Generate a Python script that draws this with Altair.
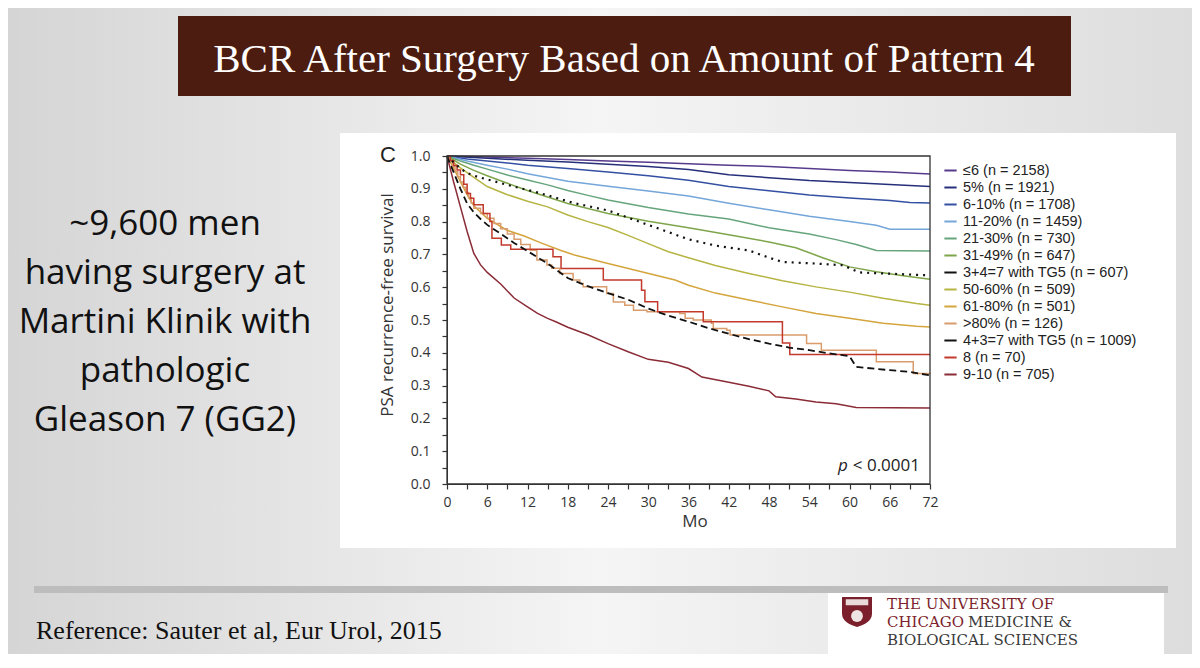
import altair as alt
import pandas as pd

# ---------------- data ----------------
LABELS = [
    "≤6 (n = 2158)", "5% (n = 1921)", "6-10% (n = 1708)", "11-20% (n = 1459)",
    "21-30% (n = 730)", "31-49% (n = 647)", "3+4=7 with TG5 (n = 607)",
    "50-60% (n = 509)", "61-80% (n = 501)", ">80% (n = 126)",
    "4+3=7 with TG5 (n = 1009)", "8 (n = 70)", "9-10 (n = 705)",
]
COLORS = [
    "#563b8c", "#26307a", "#3450a2", "#74a6da", "#66a57c", "#7ea54a", "#111111",
    "#b6b443", "#d4a53c", "#d99c6c", "#111111", "#c3392c", "#8a2b36",
]
STYLES = ["smooth", "smooth", "smooth", "smooth", "smooth", "smooth", "dotted",
          "smooth", "smooth", "step", "dashed", "step", "smooth"]

m_le6 = [0, 6, 12, 18, 24, 30, 36, 42, 48, 54, 60, 66, 72]
s_le6 = [1.0, 0.997, 0.993, 0.989, 0.985, 0.981, 0.976, 0.972, 0.968, 0.962, 0.956, 0.951, 0.945]

m_5 = [0, 6, 12, 18, 24, 30, 36, 42, 48, 54, 60, 66, 72]
s_5 = [1.0, 0.993, 0.987, 0.982, 0.975, 0.968, 0.959, 0.943, 0.934, 0.925, 0.919, 0.913, 0.907]

m_6_10 = [0, 3, 6, 9, 12, 18, 24, 30, 36, 42, 48, 54, 60, 66, 69, 72]
s_6_10 = [1.0, 0.991, 0.985, 0.979, 0.972, 0.962, 0.951, 0.940, 0.926, 0.907, 0.894, 0.881, 0.872, 0.864, 0.858, 0.857]

m_11_20 = [0, 3, 6, 9, 12, 18, 24, 30, 36, 42, 48, 54, 60, 64, 66, 72]
s_11_20 = [1.0, 0.985, 0.972, 0.960, 0.946, 0.923, 0.908, 0.893, 0.878, 0.856, 0.836, 0.816, 0.800, 0.789, 0.777, 0.777]

m_21_30 = [0, 2, 4, 6, 9, 12, 15, 18, 21, 24, 30, 36, 42, 48, 54, 58, 61, 64, 72]
s_21_30 = [1.0, 0.985, 0.972, 0.960, 0.942, 0.927, 0.912, 0.895, 0.880, 0.866, 0.843, 0.823, 0.808, 0.781, 0.762, 0.745, 0.730, 0.712, 0.710]

m_31_49 = [0, 2, 4, 6, 9, 12, 15, 18, 21, 24, 30, 36, 42, 48, 52, 56, 60, 64, 68, 72]
s_31_49 = [1.0, 0.975, 0.956, 0.940, 0.917, 0.895, 0.875, 0.855, 0.840, 0.825, 0.801, 0.781, 0.760, 0.738, 0.720, 0.690, 0.662, 0.647, 0.635, 0.624]

m_34tg5 = [0, 1, 2, 3, 4.5, 9, 14, 19, 24, 27, 30, 33, 36, 40, 45, 48, 50, 55, 59, 61.5, 72]
s_34tg5 = [1.0, 0.980, 0.962, 0.948, 0.937, 0.912, 0.886, 0.856, 0.834, 0.812, 0.790, 0.768, 0.746, 0.727, 0.712, 0.690, 0.677, 0.672, 0.667, 0.645, 0.636]

m_50_60 = [0, 1, 2, 4, 6, 9, 12, 15, 18, 21, 24, 27, 30, 33, 36, 40, 45, 50, 55, 60, 65, 70, 72]
s_50_60 = [1.0, 0.980, 0.964, 0.935, 0.907, 0.882, 0.862, 0.845, 0.820, 0.800, 0.782, 0.758, 0.733, 0.708, 0.690, 0.666, 0.642, 0.620, 0.601, 0.585, 0.566, 0.550, 0.545]

m_61_80 = [0, 1, 2, 3, 4, 6, 9, 11.5, 14, 17, 19, 24, 29, 34, 36, 40, 45, 50, 55, 60, 65, 70, 72]
s_61_80 = [1.0, 0.962, 0.922, 0.882, 0.848, 0.810, 0.773, 0.756, 0.735, 0.712, 0.698, 0.672, 0.647, 0.622, 0.606, 0.582, 0.561, 0.540, 0.520, 0.505, 0.490, 0.481, 0.479]

m_gt80 = [0, 0.4, 0.8, 1.2, 1.6, 2.0, 2.4, 2.8, 3.2, 3.6, 4.0, 5, 6, 7, 8, 9, 10, 11, 12.4, 13.4,
          14.9, 15.6, 16.8, 18.8, 19.8, 20.3, 23.8, 24.8, 26.5, 27.8, 29.8, 34.7, 35.5, 36.7,
          39.4, 39.7, 41.7, 42.2, 53.6, 55.8, 64.0, 69.5, 72]
s_gt80 = [1.0, 0.984, 0.968, 0.952, 0.937, 0.921, 0.905, 0.889, 0.873, 0.857, 0.841, 0.825, 0.810,
          0.794, 0.778, 0.762, 0.746, 0.730, 0.713, 0.683, 0.668, 0.658, 0.642, 0.622, 0.611,
          0.601, 0.581, 0.555, 0.545, 0.530, 0.525, 0.520, 0.505, 0.500, 0.490, 0.474, 0.469,
          0.454, 0.428, 0.408, 0.373, 0.337, 0.335]

m_43tg5 = [0, 1, 2, 3, 4, 5, 6, 8, 10, 12, 15, 18, 21, 24, 27, 30, 33, 36, 39, 42, 45, 48, 51,
           54, 58, 60, 61, 66, 69, 72]
s_43tg5 = [1.0, 0.950, 0.900, 0.855, 0.828, 0.808, 0.790, 0.763, 0.735, 0.710, 0.672, 0.628,
           0.603, 0.582, 0.562, 0.535, 0.513, 0.495, 0.475, 0.458, 0.442, 0.428, 0.416, 0.408,
           0.395, 0.390, 0.357, 0.347, 0.342, 0.331]

m_8 = [0, 0.5, 1, 1.5, 2, 2.5, 3, 3.5, 4, 5.4, 6.4, 6.7, 8.1, 9.5, 15.8, 17.0, 23.3, 29.0, 29.5,
       31.4, 38.2, 50.0, 51.1, 72]
s_8 = [1.0, 0.986, 0.971, 0.957, 0.943, 0.914, 0.886, 0.871, 0.851, 0.825, 0.800, 0.749, 0.729,
       0.716, 0.693, 0.657, 0.622, 0.591, 0.556, 0.525, 0.495, 0.430, 0.395, 0.395]

m_9_10 = [0, 0.5, 1, 2, 3, 4, 5, 6, 8, 10, 12, 13.5, 15, 16.3, 18, 21, 24, 27, 30, 33, 36, 38,
          42, 45, 48, 49, 52, 55, 58, 61, 72]
s_9_10 = [1.0, 0.960, 0.920, 0.845, 0.770, 0.703, 0.668, 0.645, 0.610, 0.567, 0.540, 0.520,
          0.505, 0.494, 0.478, 0.455, 0.428, 0.403, 0.380, 0.371, 0.352, 0.326, 0.310, 0.298,
          0.284, 0.266, 0.259, 0.250, 0.245, 0.233, 0.232]

SERIES = [
    (m_le6, s_le6), (m_5, s_5), (m_6_10, s_6_10), (m_11_20, s_11_20), (m_21_30, s_21_30),
    (m_31_49, s_31_49), (m_34tg5, s_34tg5), (m_50_60, s_50_60), (m_61_80, s_61_80),
    (m_gt80, s_gt80), (m_43tg5, s_43tg5), (m_8, s_8), (m_9_10, s_9_10),
]

X_TICKS = list(range(0, 73, 3))
Y_TICKS = [round(i * 0.05, 2) for i in range(21)]

TITLE = "BCR After Surgery Based on Amount of Pattern 4"
LEFT_TEXT = ["~9,600 men", "having surgery at", "Martini Klinik with", "pathologic", "Gleason 7 (GG2)"]
REFERENCE = "Reference: Sauter et al, Eur Urol, 2015"

rows = []
for lab, st, (ms, ss) in zip(LABELS, STYLES, SERIES):
    for m, s in zip(ms, ss):
        rows.append({"label": lab, "style": st, "month": m, "surv": s})
df = pd.DataFrame(rows)

# ---------------- layout ----------------
W, H = 483, 328
PAD = {"left": 439, "top": 148, "right": 262, "bottom": 170}
one = pd.DataFrame({"k": [0]})


def rect(x, x2, y, y2, **kw):
    return alt.Chart(one).mark_rect(**kw).encode(
        x=alt.value(x), x2=alt.value(x2), y=alt.value(y), y2=alt.value(y2))


def label(txt, x, y, **kw):
    return alt.Chart(one).mark_text(text=txt, **kw).encode(x=alt.value(x), y=alt.value(y))


bg_grad = alt.LinearGradient(
    gradient="linear", x1=0, x2=1, y1=0, y2=0,
    stops=[alt.GradientStop(color="#d5d5d5", offset=0),
           alt.GradientStop(color="#f5f5f5", offset=0.5),
           alt.GradientStop(color="#dddddd", offset=1)])

background = rect(-PAD["left"], W + PAD["right"], -PAD["top"], H + PAD["bottom"], fill=bg_grad)
panel = rect(-107, 729, -23, 392, color="#ffffff")
title_box = rect(-269, 624, -140, -60, color="#4b1c0f")
title_txt = label(TITLE, 177, -84, font="Liberation Serif", fontSize=41, color="#ffffff",
                  align="center", baseline="alphabetic")
left_txt = label(LEFT_TEXT, -282, 79, font="Open Sans", fontSize=35, color="#111111",
                 align="center", baseline="alphabetic", lineHeight=49)
band = rect(-413, 721, 430, 437, color="#bdbdbd")
ref_txt = label(REFERENCE, -411, 483, font="Liberation Serif", fontSize=26, color="#111111",
                align="left", baseline="alphabetic")
logo_box = rect(381, 717, 437, 498, color="#ffffff")
shield = alt.Chart(one).mark_point(
    shape="M-1,-1 L1,-1 L1,0.1 C1,0.6 0.5,0.85 0,1 C-0.5,0.85 -1,0.6 -1,0.1 Z",
    size=900, filled=True, color="#7a1f2b", opacity=1, strokeWidth=0,
).encode(x=alt.value(410), y=alt.value(456))
shield_band = alt.Chart(one).mark_point(
    shape="M-0.75,-0.85 L0.75,-0.85 L0.75,-0.45 L-0.75,-0.45 Z",
    size=900, filled=True, color="#e9d9d9", opacity=1, strokeWidth=0,
).encode(x=alt.value(410), y=alt.value(456))
shield_bird = alt.Chart(one).mark_point(
    shape="circle", size=140, filled=True, color="#efe4e4", opacity=1, strokeWidth=0,
).encode(x=alt.value(410), y=alt.value(460))
MAROON, GRAY = "#7d1f2d", "#3a3a3a"
lf = dict(font="DejaVu Serif", fontSize=15, align="left", baseline="alphabetic")
logo1 = label("THE UNIVERSITY OF", 440, 453, color=MAROON, **lf)
logo2a = label("CHICAGO", 440, 471, color=MAROON, **lf)
logo2b = label("MEDICINE &", 521, 471, color=GRAY, **lf)
logo3 = label("BIOLOGICAL SCIENCES", 440, 489, color=GRAY, **lf)

# ---------------- KM chart ----------------
x_axis = alt.Axis(values=X_TICKS, labelExpr="datum.value % 6 == 0 ? datum.label : ''",
                  tickSize=5, tickWidth=1.2, labelPadding=6, labelFont="Open Sans",
                  labelFontSize=14, labelColor="#333333", domainColor="#333333",
                  tickColor="#333333", title=None, grid=False, zindex=1, labelFlush=False,
                  labelOverlap=False)
y_axis = alt.Axis(values=Y_TICKS,
                  labelExpr="round(datum.value * 20) % 2 == 0 ? format(datum.value, '.1f') : ''",
                  tickSize=5, tickWidth=1.2, labelPadding=12, labelFont="Open Sans",
                  labelFontSize=14, labelColor="#333333", domainColor="#333333",
                  tickColor="#333333", title=None, grid=False, zindex=1, labelOverlap=False)
legend = alt.Legend(title=None, orient="none", legendX=496, legendY=7, symbolType="stroke",
                    symbolSize=150, symbolStrokeWidth=2, labelFont="Liberation Sans",
                    labelFontSize=14.5, labelColor="#222222", rowPadding=2.0, labelOffset=5,
                    padding=0, zindex=1, labelLimit=0)

base = alt.Chart(df).encode(
    x=alt.X("month:Q", scale=alt.Scale(domain=[0, 72], nice=False, zero=False), axis=x_axis),
    y=alt.Y("surv:Q", scale=alt.Scale(domain=[0, 1], nice=False), axis=y_axis),
    color=alt.Color("label:N", scale=alt.Scale(domain=LABELS, range=COLORS), legend=legend,
                    sort=LABELS),
)
smooth = base.transform_filter(alt.datum.style == "smooth").mark_line(strokeWidth=1.5)
step = base.transform_filter(alt.datum.style == "step").mark_line(strokeWidth=1.5,
                                                                  interpolate="step-after")
dotted = base.transform_filter(alt.datum.style == "dotted").mark_line(
    strokeWidth=2.2, strokeDash=[2, 5])
dashed = base.transform_filter(alt.datum.style == "dashed").mark_line(
    strokeWidth=1.8, strokeDash=[7, 4])

frame = rect(0, W, 0, H, fillOpacity=0, stroke="#333333", strokeWidth=1.3)
c_txt = label("C", -59, -1, font="Liberation Sans", fontSize=22, color="#222222",
              align="center", baseline="middle")
y_title = label("PSA recurrence-free survival", -59, 149, font="Open Sans", fontSize=17,
                color="#333333", align="center", baseline="middle", angle=270)
x_title = label("Mo", 248, 366, font="Open Sans", fontSize=17, color="#333333",
                align="center", baseline="middle")
p_txt = label("p", 391, 315, font="Open Sans", fontSize=17, fontStyle="italic",
              color="#222222", align="left", baseline="alphabetic")
p_val = label("< 0.0001", 473, 315, font="Open Sans", fontSize=17, color="#222222",
              align="right", baseline="alphabetic")

chart = alt.layer(
    background, panel, title_box, title_txt, left_txt, band, ref_txt, logo_box,
    shield, shield_band, shield_bird, logo1, logo2a, logo2b, logo3,
    smooth, step, dotted, dashed, frame, c_txt, y_title, x_title, p_txt, p_val,
).properties(
    width=W, height=H, autosize=alt.AutoSizeParams(type="none"), padding=PAD,
).configure_view(stroke=None).configure(background="#ffffff")

chart.save("out.html", embed_options={"renderer": "svg", "actions": False})
